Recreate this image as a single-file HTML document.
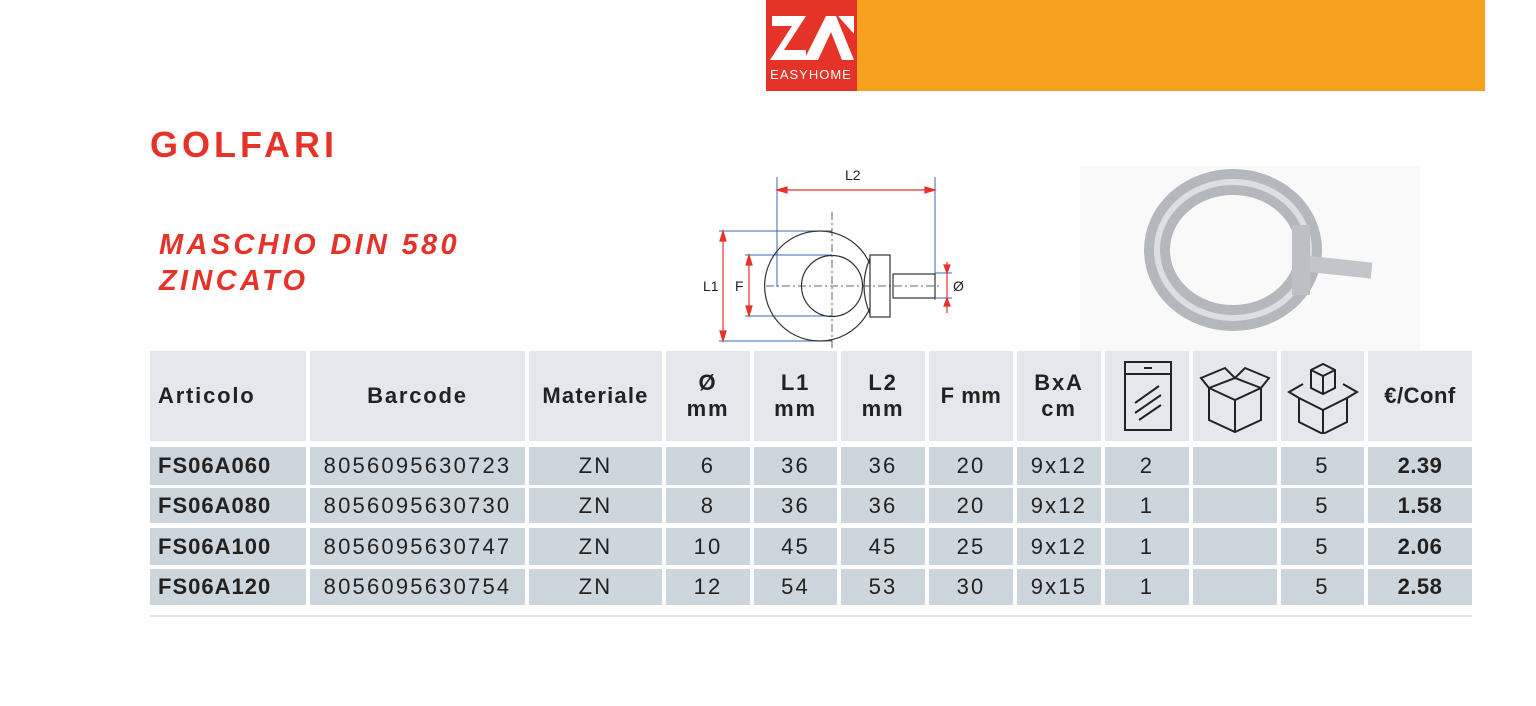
<!DOCTYPE html>
<html><head><meta charset="utf-8"><style>
body{margin:0;width:1536px;height:706px;background:#fff;position:relative;overflow:hidden;font-family:"Liberation Sans",sans-serif;color:#222}
.a{position:absolute}
.c{position:absolute;display:flex;align-items:center;justify-content:center;text-align:center;box-sizing:border-box}
.h{background:#e4e8ec;font-weight:bold;font-size:22px;line-height:1.2;letter-spacing:1.8px}
.r{background:#cdd6dd;font-size:22px;letter-spacing:2.2px}
</style></head><body>
<div class="a" style="left:766px;top:0;width:91px;height:91px;background:#e63329"></div>
<div class="a" style="left:857px;top:0;width:628px;height:91px;background:#f5a11e"></div>
<svg class="a" style="left:766px;top:0" width="91" height="91">
<polygon points="6,16 40,16 18,50 40,50 40,60 4,60 26,26 6,26" fill="#fff"/>
<polygon points="38,60 60,16 70,16 88,60 76,60 65,32 52,60" fill="#fff"/>
<polygon points="72,16 88,16 88,34" fill="#fff"/>
<text x="45" y="79" font-size="13" fill="#fff" text-anchor="middle" font-family="Liberation Sans" letter-spacing="1">EASYHOME</text>
</svg>
<div class="a" style="left:150px;top:124px;font-size:36px;font-weight:bold;color:#e63329;letter-spacing:4px">GOLFARI</div>
<div class="a" style="left:159px;top:227px;font-size:29px;font-weight:bold;font-style:italic;color:#e63329;line-height:36px;letter-spacing:3.3px">MASCHIO DIN 580<br>ZINCATO</div>
<svg class="a" style="left:0;top:0" width="1536" height="706">
<g stroke="#3a6ab5" stroke-width="1" fill="none">
<line x1="777" y1="177" x2="777" y2="287"/><line x1="935" y1="177" x2="935" y2="300"/>
<line x1="719" y1="231" x2="832" y2="231"/><line x1="719" y1="341" x2="832" y2="341"/>
<line x1="745" y1="255" x2="832" y2="255"/><line x1="745" y1="316" x2="832" y2="316"/>
<line x1="935" y1="273" x2="952" y2="273"/><line x1="935" y1="298" x2="952" y2="298"/>
</g>
<g stroke="#e63329" stroke-width="1.2" fill="#e63329">
<line x1="780" y1="190" x2="932" y2="190"/><polygon points="777,190 787,187 787,193"/><polygon points="935,190 925,187 925,193"/>
<line x1="723" y1="234" x2="723" y2="338"/><polygon points="723,231 720,241 726,241"/><polygon points="723,341 720,331 726,331"/>
<line x1="749" y1="258" x2="749" y2="313"/><polygon points="749,255 746,265 752,265"/><polygon points="749,316 746,306 752,306"/>
<line x1="947" y1="262" x2="947" y2="313"/><polygon points="947,273 944,265 950,265"/><polygon points="947,298 944,306 950,306"/>
</g>
<g stroke="#333" stroke-width="1.2" fill="none">
<path d="M870 264 A55 55 0 1 0 870 308"/><circle cx="832" cy="286" r="30.5"/>
<rect x="870" y="255" width="20" height="62"/><rect x="893" y="274" width="42" height="24"/>
<path d="M870 258 Q858 286 870 314"/>
</g>
<g stroke="#333" stroke-width="0.8" stroke-dasharray="8,3,2,3"><line x1="832" y1="212" x2="832" y2="350"/><line x1="766" y1="286" x2="940" y2="286"/></g>
<g font-size="14" fill="#222" font-family="Liberation Sans"><text x="845" y="180">L2</text><text x="703" y="291">L1</text><text x="735" y="291">F</text><text x="953" y="291">Ø</text></g>
<rect x="1080" y="166" width="340" height="186" fill="#f9f9f9"/>
<ellipse cx="1233" cy="250" rx="76" ry="68" fill="none" stroke="#b4b8bd" stroke-width="26"/>
<ellipse cx="1233" cy="250" rx="76" ry="68" fill="none" stroke="#dcdfe2" stroke-width="6"/>
<rect x="1300" y="255" width="72" height="16" fill="#c2c6cb" transform="rotate(6 1300 263)"/>
<rect x="1292" y="225" width="18" height="70" fill="#bcc0c5"/>
</svg>
<div class="c h" style="left:150px;top:351px;width:156px;height:90px;justify-content:flex-start;padding-left:8px">Articolo</div>
<div class="c h" style="left:310px;top:351px;width:215px;height:90px">Barcode</div>
<div class="c h" style="left:529px;top:351px;width:133px;height:90px;letter-spacing:1.2px">Materiale</div>
<div class="c h" style="left:666px;top:351px;width:84px;height:90px">Ø<br>mm</div>
<div class="c h" style="left:754px;top:351px;width:83px;height:90px">L1<br>mm</div>
<div class="c h" style="left:841px;top:351px;width:84px;height:90px">L2<br>mm</div>
<div class="c h" style="left:929px;top:351px;width:84px;height:90px;letter-spacing:0.5px">F mm</div>
<div class="c h" style="left:1017px;top:351px;width:84px;height:90px">BxA<br>cm</div>
<div class="c h" style="left:1105px;top:351px;width:84px;height:90px"><svg width="60" height="76"><rect x="8" y="4" width="46" height="12" fill="none" stroke="#222" stroke-width="2"/><path d="M8 16 L8 72 L54 72 L54 16" fill="none" stroke="#222" stroke-width="2"/><g stroke="#222" stroke-width="2"><line x1="18" y1="45" x2="42" y2="28"/><line x1="18" y1="55" x2="44" y2="37"/><line x1="22" y1="62" x2="44" y2="47"/><line x1="27" y1="10" x2="35" y2="10"/></g></svg></div>
<div class="c h" style="left:1193px;top:351px;width:84px;height:90px"><svg width="72" height="76"><g fill="none" stroke="#222" stroke-width="2"><path d="M10 30 L36 42 L62 30 L62 62 L36 74 L10 62 Z M36 42 L36 74"/><path d="M10 30 L2 20 L26 10 L36 20 L46 10 L70 20 L62 30 M10 30 L36 20 L62 30"/></g></svg></div>
<div class="c h" style="left:1281px;top:351px;width:83px;height:90px"><svg width="76" height="76"><g fill="none" stroke="#222" stroke-width="2"><path d="M26 12 L38 6 L50 12 L50 30 L38 36 L26 30 Z M26 12 L38 18 L50 12 M38 18 L38 36"/><path d="M14 40 L38 52 L62 40 L62 64 L38 76 L14 64 Z M38 52 L38 76"/><path d="M14 40 L4 34 L18 26 M62 40 L72 34 L58 26"/></g></svg></div>
<div class="c h" style="left:1368px;top:351px;width:104px;height:90px;letter-spacing:0.5px">€/Conf</div>
<div id="rows"></div>
<div class="a" style="left:150px;top:615px;width:1322px;height:2px;background:#dde2e6"></div>
<script>
var d=[["FS06A060","8056095630723","ZN","6","36","36","20","9x12","2","","5","2.39"],["FS06A080","8056095630730","ZN","8","36","36","20","9x12","1","","5","1.58"],["FS06A100","8056095630747","ZN","10","45","45","25","9x12","1","","5","2.06"],["FS06A120","8056095630754","ZN","12","54","53","30","9x15","1","","5","2.58"]];
var xs=[[150,156],[310,215],[529,133],[666,84],[754,83],[841,84],[929,84],[1017,84],[1105,84],[1193,84],[1281,83],[1368,104]];
var ys=[[447,38],[488,35],[528,37],[569,36]];var h="";
d.forEach(function(r,i){r.forEach(function(t,j){var st="left:"+xs[j][0]+"px;top:"+ys[i][0]+"px;width:"+xs[j][1]+"px;height:"+ys[i][1]+"px;";if(j==0)st+="justify-content:flex-start;padding-left:8px;font-weight:bold;letter-spacing:1px;";if(j==11)st+="font-weight:bold;letter-spacing:0.5px;";h+='<div class="c r" style="'+st+'">'+t+'</div>';});});
document.getElementById("rows").innerHTML=h;
</script>
</body></html>
